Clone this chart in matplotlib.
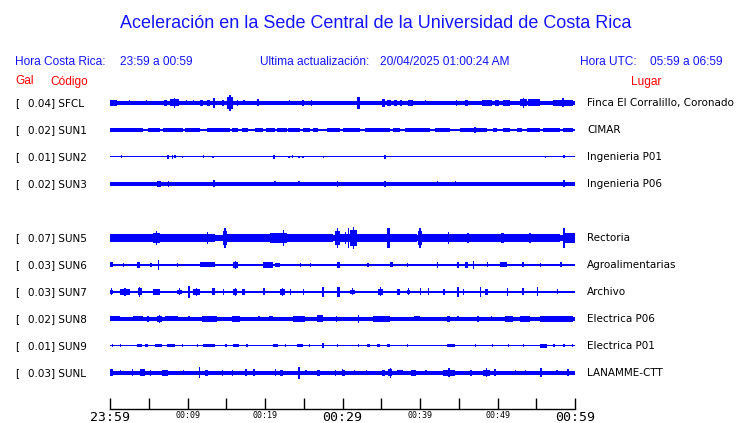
import matplotlib
matplotlib.use("Agg")
import matplotlib.pyplot as plt

# ---------------- data ----------------
codes = ["SFCL", "SUN1", "SUN2", "SUN3", "SUN5", "SUN6", "SUN7", "SUN8", "SUN9", "SUNL"]
gal = ["0.04", "0.02", "0.01", "0.02", "0.07", "0.03", "0.03", "0.02", "0.01", "0.03"]
places = ["Finca El Corralillo, Coronado", "CIMAR", "Ingenieria P01", "Ingenieria P06",
          "Rectoria", "Agroalimentarias", "Archivo", "Electrica P06", "Electrica P01", "LANAMME-CTT"]
slots = [0, 1, 2, 3, 5, 6, 7, 8, 9, 10]          # SUN4 slot is empty
tick_minutes = [0, 10, 20, 30, 40, 50, 60]
tick_labels = ["23:59", "00:09", "00:19", "00:29", "00:39", "00:49", "00:59"]
big_ticks = ["23:59", "00:29", "00:59"]

# background half-amplitude of every trace (pixels of the display)
base_amp = [2.0, 0.6, 0.5, 1.8, 3.3, 1.1, 1.2, 1.8, 0.5, 1.8]

# bursts: (start minute, end minute, half-amplitude)
sfcl = [(0.0, 0.9, 3.3), (2.4, 2.5, 2.5), (4.6, 4.7, 2.5), (7.0, 7.4, 3), (7.7, 8.9, 5),
        (9.8, 9.9, 2.5), (10.7, 10.8, 2.5), (11.6, 12.0, 3), (12.5, 12.9, 3), (13.3, 13.5, 5),
        (14.4, 14.7, 3), (15.1, 15.9, 8), (16.4, 16.5, 3), (17.2, 17.3, 2.5), (19.0, 19.2, 3.5),
        (21.7, 21.8, 2), (23.1, 23.2, 2.5), (24.8, 24.9, 3), (25.9, 26.0, 3), (31.9, 32.3, 6),
        (35.1, 35.5, 4), (35.7, 36.2, 3), (36.6, 37.0, 3), (37.4, 37.7, 3), (38.4, 39.1, 3),
        (40.6, 40.7, 2.5), (44.6, 44.7, 3), (45.8, 46.2, 3), (48.0, 49.3, 3), (49.7, 50.2, 3),
        (50.7, 51.6, 3), (52.9, 53.8, 5), (53.9, 55.5, 3.5), (57.2, 59.7, 4.5)]
sun1 = [(0.0, 4.3, 1.6), (4.9, 6.5, 1.6), (6.8, 9.4, 1.6), (9.7, 11.6, 1.6), (12.5, 15.5, 1.6),
        (15.7, 16.5, 1.6), (17.0, 17.8, 1.6), (18.7, 19.7, 1.6), (20.1, 21.3, 1.6), (21.5, 22.8, 1.6),
        (23.0, 24.5, 1.6), (24.9, 25.8, 1.6), (26.2, 26.8, 1.6), (28.0, 29.7, 1.6), (30.1, 32.3, 1.6),
        (32.9, 36.1, 1.6), (36.5, 37.4, 1.6), (38.1, 41.3, 1.6), (41.9, 43.9, 1.6), (45.2, 48.6, 1.6),
        (47.0, 47.1, 3.0), (49.4, 49.9, 1.6), (50.7, 51.6, 1.6), (52.5, 53.2, 1.6), (53.8, 55.5, 1.6),
        (55.9, 58.1, 1.6), (58.5, 59.7, 1.6)]
sun2 = [(1.4, 1.5, 1.5), (7.3, 7.6, 2), (8.0, 8.1, 2), (8.3, 8.4, 1.5), (9.3, 9.4, 1.2),
        (12.0, 12.1, 1.5), (13.2, 13.3, 1.2), (21.0, 21.3, 2), (23.0, 23.1, 1.2), (23.5, 23.6, 1.5),
        (24.3, 24.4, 1.2), (24.8, 24.9, 1.2), (27.5, 27.6, 1.2), (35.4, 35.5, 2), (56.1, 56.2, 1.2),
        (58.5, 58.6, 1.5)]
sun3 = [(6.1, 6.6, 3), (7.5, 7.6, 3), (13.3, 13.5, 3.5), (21.2, 21.3, 2.5), (24.3, 24.4, 2.5),
        (29.3, 29.4, 3), (35.4, 35.5, 3), (42.2, 42.3, 2.5), (44.5, 44.6, 2.5), (47.4, 47.5, 2.3),
        (48.6, 48.7, 2.3), (53.9, 54.0, 2.3), (58.5, 58.7, 3.5)]
sun5 = [(0.0, 5.5, 4), (5.5, 6.5, 7), (6.5, 11.6, 4), (11.6, 13.5, 6), (14.6, 15.1, 10),
        (15.1, 20.6, 3.8), (20.6, 22.8, 5), (22.3, 22.5, 8), (22.8, 28.8, 4), (29.0, 29.7, 10),
        (30.7, 30.8, 10), (29.7, 31.0, 6), (31.0, 31.9, 11), (31.9, 35.7, 4), (35.7, 36.1, 10),
        (36.1, 39.6, 4), (39.7, 40.3, 10), (40.3, 43.2, 4), (43.2, 44.1, 6), (44.1, 58.1, 4),
        (46.0, 46.3, 5), (50.5, 50.8, 5), (54.0, 54.3, 5), (58.5, 58.7, 10), (58.7, 60.0, 5)]
sun6 = [(0.0, 0.4, 2.5), (1.7, 1.8, 2), (3.5, 3.9, 3), (5.2, 5.3, 2), (6.2, 6.3, 5), (8.6, 8.7, 2),
        (11.6, 13.5, 2.5), (15.9, 16.5, 4), (19.7, 21.0, 3), (21.3, 21.9, 2), (24.5, 24.6, 2),
        (25.8, 25.9, 2), (29.3, 29.7, 3), (33.2, 33.3, 2), (36.1, 36.5, 2.5), (38.3, 38.4, 2),
        (42.2, 42.3, 3), (44.8, 44.9, 3), (45.8, 46.2, 3), (46.8, 46.9, 4), (48.6, 48.7, 2.5),
        (50.3, 51.2, 2.5), (53.2, 53.3, 2.5), (55.5, 55.6, 2), (58.1, 58.2, 2.5)]
sun7 = [(0.0, 0.4, 3.5), (1.3, 2.6, 4), (3.6, 4.1, 5), (5.5, 6.5, 3), (8.6, 9.3, 3.5), (10.1, 10.3, 6),
        (10.7, 11.6, 4), (13.2, 13.5, 3.5), (14.6, 14.7, 3), (15.9, 16.4, 4), (17.0, 17.4, 3),
        (19.7, 20.0, 3.5), (21.9, 22.6, 4), (23.2, 23.4, 3), (24.9, 25.0, 3), (27.4, 27.5, 5),
        (29.3, 29.7, 5), (31.0, 31.6, 3.5), (34.6, 35.2, 4.5), (37.0, 37.4, 3), (38.3, 38.7, 3.5),
        (40.0, 40.1, 3.5), (41.0, 41.1, 3.5), (43.0, 43.1, 3), (44.8, 44.9, 5), (45.5, 45.6, 3),
        (47.7, 47.8, 5), (48.4, 48.8, 3), (51.2, 51.3, 4), (53.2, 53.3, 3.5), (55.1, 55.2, 4.5),
        (57.7, 57.8, 2.5)]
sun8 = [(0.0, 1.3, 2.5), (3.0, 4.3, 2.5), (4.8, 4.9, 3), (6.1, 6.7, 4), (7.1, 8.8, 2.5),
        (10.0, 10.3, 2.5), (11.9, 13.8, 3), (15.7, 16.8, 3), (19.1, 19.4, 2.5), (20.5, 21.0, 2.5),
        (23.6, 25.2, 3), (26.7, 27.5, 3.5), (29.1, 29.2, 3), (32.0, 32.1, 4), (33.9, 36.1, 3),
        (39.2, 40.0, 2.5), (43.5, 43.9, 3), (44.8, 44.9, 2.5), (47.4, 47.5, 3), (49.1, 49.2, 2.5),
        (51.0, 52.0, 3), (52.9, 54.2, 3), (55.5, 59.7, 3)]
sun9 = [(0.2, 0.3, 1.5), (1.3, 1.4, 1.5), (3.5, 4.1, 1.5), (4.5, 4.9, 1.5), (5.8, 6.7, 1.5),
        (7.3, 8.4, 1.5), (9.3, 9.4, 1.5), (11.2, 11.3, 1.5), (12.0, 13.5, 1.5), (14.8, 15.1, 1.5),
        (15.9, 16.7, 1.5), (17.6, 17.7, 1.5), (21.0, 21.7, 1.5), (22.6, 22.7, 1.5), (24.1, 24.9, 1.5),
        (25.7, 25.8, 1.5), (27.4, 27.5, 2.5), (29.3, 29.4, 1.5), (32.0, 32.1, 1.5), (33.1, 33.5, 1.5),
        (34.5, 34.8, 1.5), (35.7, 36.1, 1.5), (38.3, 38.4, 1.5), (43.5, 44.5, 1.5), (47.1, 47.2, 1.5),
        (49.3, 49.4, 1.5), (51.3, 51.4, 1.5), (53.3, 53.4, 1.5), (55.5, 56.4, 2), (57.2, 57.3, 1.5),
        (58.5, 58.6, 1.5), (59.6, 59.7, 1.5)]
sunl = [(0.0, 0.4, 3.5), (1.3, 1.4, 2.5), (2.8, 2.9, 3.5), (3.9, 4.5, 3.5), (5.1, 5.2, 3),
        (6.7, 7.5, 3), (9.4, 9.5, 2.5), (11.5, 11.6, 5.5), (12.2, 12.6, 3), (14.4, 14.5, 3),
        (15.7, 15.8, 3), (17.4, 17.7, 3.5), (18.5, 18.7, 3.5), (21.3, 21.4, 3.5), (21.9, 22.3, 3),
        (24.3, 24.4, 6), (25.2, 25.3, 2.5), (26.7, 27.1, 3), (29.0, 29.1, 3), (29.9, 30.0, 3.5),
        (30.0, 30.3, 3), (31.5, 31.6, 2.5), (33.0, 33.1, 2.5), (35.1, 35.5, 3), (35.9, 36.4, 5),
        (37.0, 37.8, 2.5), (38.8, 39.5, 3), (40.7, 40.8, 2.5), (43.0, 44.5, 4.5), (46.5, 46.6, 3),
        (48.1, 49.0, 4.5), (49.6, 49.8, 3.5), (52.2, 52.3, 2.5), (53.5, 53.6, 2.5), (55.5, 55.7, 4.5),
        (57.6, 57.7, 2.5), (59.0, 59.1, 3.5)]
bursts = [sfcl, sun1, sun2, sun3, sun5, sun6, sun7, sun8, sun9, sunl]

# ---------------- layout ----------------
W, H = 740, 423
BLUE = "#0000ff"
TXT_BLUE = "#1414ff"
fig = plt.figure(figsize=(W / 100, H / 100), dpi=100)
fig.patch.set_facecolor("white")

def fx(px):
    return px / W

def fy(py):
    return 1 - py / H

# traces axes: data y in display rows
X0, X1 = 110, 575
ax = fig.add_axes([fx(X0), fy(395), (X1 - X0) / W, (395 - 88) / H])
ax.set_xlim(0, 60)
ax.set_ylim(395, 88)
ax.axis("off")

SPIKE_W = 0.17
ROW0, ROWSTEP = 103, 27
bar_kw = dict(align="edge", color=BLUE, linewidth=0, antialiased=False)
for i, code in enumerate(codes):
    yc = ROW0 + ROWSTEP * slots[i]
    b = base_amp[i]
    ax.bar(0, 2 * b, width=60, bottom=yc - b, **bar_kw)
    for (t0, t1, a) in bursts[i]:
        d = t1 - t0
        if d >= 0.4 and a - b >= 2:
            # cluster: body at reduced amplitude with its peak spike in the middle
            body = max(b, 0.7 * a)
            ax.bar(t0, 2 * body, width=d, bottom=yc - body, **bar_kw)
            tm = 0.5 * (t0 + t1) - SPIKE_W / 2
            ax.bar(tm, 2 * a, width=SPIKE_W, bottom=yc - a, **bar_kw)
        else:
            w = max(d, SPIKE_W)
            ax.bar(t0, 2 * a, width=w, bottom=yc - a, **bar_kw)
    # labels
    fig.text(fx(15), fy(yc), "[", fontsize=7.5, family="DejaVu Sans", va="center", ha="left")
    fig.text(fx(28), fy(yc), f"{gal[i]}] {code}", fontsize=7.5, family="DejaVu Sans",
             va="center", ha="left")
    fig.text(fx(587), fy(yc), places[i], fontsize=7.5, family="DejaVu Sans",
             va="center", ha="left")

# time axis
tax = fig.add_axes([fx(X0), fy(409), (X1 - X0) / W, 0.02])
tax.set_xlim(0, 60)
tax.set_ylim(0, 1)
tax.patch.set_alpha(0)
for s in ["top", "left", "right"]:
    tax.spines[s].set_visible(False)
tax.spines["bottom"].set_linewidth(1.0)
tax.set_yticks([])
tax.set_xticks(range(0, 61, 5))
tax.set_xticklabels([])
tax.tick_params(axis="x", direction="in", length=8, width=1.0)
lab_tr = matplotlib.transforms.blended_transform_factory(tax.transData, fig.transFigure)
for m, lab in zip(tick_minutes, tick_labels):
    big = lab in big_ticks
    tax.text(m, fy(410.5), lab, transform=lab_tr, ha="center", va="top",
             family="DejaVu Sans Mono", fontsize=9.5 if big else 6)

# header texts
fig.text(fx(376), fy(23), "Aceleración en la Sede Central de la Universidad de Costa Rica",
         fontsize=13, ha="center", va="center", family="Liberation Sans", color=TXT_BLUE)
hk = dict(family="Liberation Sans", color=TXT_BLUE, fontsize=8.6, va="baseline", ha="left")
fig.text(fx(15), fy(65), "Hora Costa Rica:", **hk)
fig.text(fx(120), fy(65), "23:59 a 00:59", **hk)
fig.text(fx(260.5), fy(65), "Ultima actualización:", **hk)
fig.text(fx(380), fy(65), "20/04/2025 01:00:24 AM", **hk)
fig.text(fx(580.5), fy(65), "Hora UTC:", **hk)
fig.text(fx(650.5), fy(65), "05:59 a 06:59", **hk)
rk = dict(family="Liberation Sans", color="red", fontsize=8.6, va="baseline", ha="left")
fig.text(fx(15), fy(84.5), "Gal", **rk)
fig.text(fx(50), fy(84.5), "Código", **rk)
fig.text(fx(630.5), fy(84.5), "Lugar", **rk)

fig.savefig("out.png", dpi=100)
